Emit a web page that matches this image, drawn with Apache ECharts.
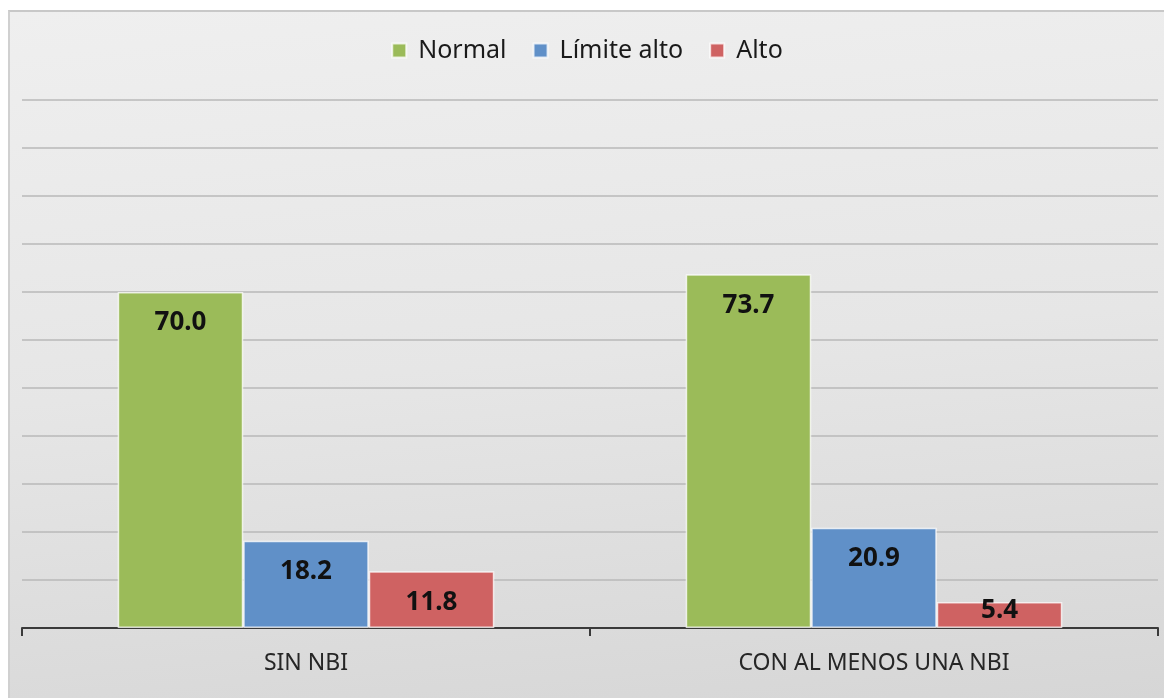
<!DOCTYPE html>
<html><head><meta charset="utf-8">
<script src="https://cdn.jsdelivr.net/npm/echarts@6/dist/echarts.min.js"></script>
<style>
html,body{margin:0;padding:0;background:#fff;width:1164px;height:698px;overflow:hidden;}
#wrap{position:absolute;left:8px;top:10px;width:1156px;height:688px;
background:linear-gradient(175deg,#efefef 0%,#e6e6e6 50%,#d6d6d6 100%);
border-top:2px solid #c8c8c8;border-left:2px solid #d0d0d0;box-sizing:border-box;}
#chart{width:100%;height:100%;}
</style></head>
<body><div id="wrap"><div id="chart"></div></div>
<script>
const categories = ["SIN NBI", "CON AL MENOS UNA NBI"];
const seriesNames = ["Normal", "Límite alto", "Alto"];
const normal = [70.0, 73.7];
const limiteAlto = [18.2, 20.9];
const alto = [11.8, 5.4];
const colors = ["#9bbb59", "#6090c8", "#cf6262"];

const values = [normal, limiteAlto, alto];
const chart = echarts.init(document.getElementById('chart'));
const font = '"Noto Sans", "Open Sans", sans-serif';
chart.setOption({
  animation: false,
  textStyle: {fontFamily: font},
  legend: {
    top: 21, left: 'center', itemWidth: 14, itemHeight: 14, itemGap: 26,
    icon: 'rect',
    textStyle: {fontSize: 25, color: '#1a1a1a', fontFamily: font, padding: [0, 0, 0, 7]}
  },
  grid: {left: 12, right: 6, top: 88, bottom: 70, containLabel: false},
  xAxis: {
    type: 'category', data: categories,
    axisLine: {lineStyle: {color: '#3a3a3a', width: 2}},
    axisTick: {show: true, length: 8, lineStyle: {color: '#3a3a3a', width: 2}},
    axisLabel: {fontSize: 23, color: '#262626', margin: 24, fontFamily: font}
  },
  yAxis: {
    type: 'value', min: 0, max: 110, interval: 10,
    axisLabel: {show: false}, axisLine: {show: false}, axisTick: {show: false},
    splitLine: {lineStyle: {color: '#b8b8b8', width: 1.5}}
  },
  series: seriesNames.map((n, i) => ({
    name: n, type: 'bar',
    data: values[i].map(v => v < 8 ? {value: v, label: {position: 'inside', offset: [0, -4]}} : v),
    barGap: '0%', barCategoryGap: '33.7%',
    itemStyle: {color: colors[i], borderColor: 'rgba(255,255,255,0.75)', borderWidth: 1.5},
    label: {
      show: true, position: 'insideTop', distance: 18,
      formatter: p => p.value.toFixed(1),
      fontSize: 26, fontWeight: 'bold', color: '#111', fontFamily: font
    }
  }))
});
</script></body></html>
